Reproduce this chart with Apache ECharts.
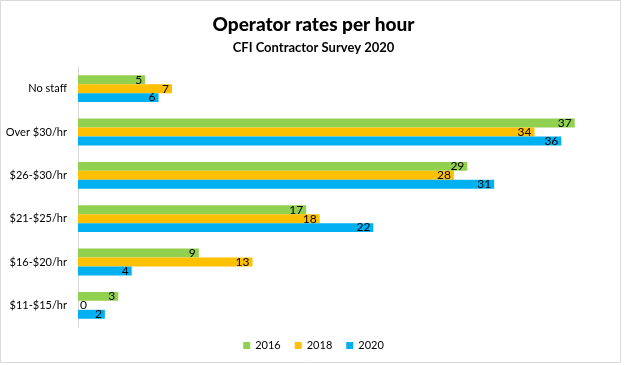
<!DOCTYPE html>
<html>
<head>
<meta charset="utf-8">
<script src="https://cdn.jsdelivr.net/npm/echarts@6/dist/echarts.min.js"></script>
<style>html,body{margin:0;padding:0;background:#fff}#c{width:627px;height:365px}</style>
</head>
<body>
<div id="c"></div>
<script>
const categories = ["No staff", "Over $30/hr", "$26-$30/hr", "$21-$25/hr", "$16-$20/hr", "$11-$15/hr"];
const seriesNames = ["2016", "2018", "2020"];
const values2016 = [5, 37, 29, 17, 9, 3];
const values2018 = [7, 34, 28, 18, 13, 0];
const values2020 = [6, 36, 31, 22, 4, 2];
const colors = ["#92D050", "#FFC000", "#00B0F0"];
const FONT = "Lato";

const allValues = [values2016, values2018, values2020];
const chart = echarts.init(document.getElementById('c'));
chart.setOption({
  animation: false,
  backgroundColor: '#fff',
  textStyle: { fontFamily: FONT },
  title: [
    { text: 'Operator rates per hour', left: 'center', top: 10,
      textStyle: { fontFamily: FONT, fontSize: 19, fontWeight: 900, color: '#000' } },
    { text: 'CFI Contractor Survey 2020', left: 'center', top: 36,
      textStyle: { fontFamily: FONT, fontSize: 13, fontWeight: 'bold', color: '#000' } }
  ],
  graphic: [{ type: 'rect', shape: { x: 0.5, y: 0.5, width: 620, height: 362 },
    style: { fill: 'none', stroke: '#d9d9d9', lineWidth: 1 }, silent: true }],
  legend: {
    data: seriesNames, bottom: 9, left: 'center', itemWidth: 7, itemHeight: 7, itemGap: 14,
    icon: 'rect', textStyle: { fontFamily: FONT, fontSize: 11, color: '#000' }
  },
  grid: { left: 78, right: 12, top: 67, bottom: 38, containLabel: false },
  xAxis: { type: 'value', min: 0, max: 40, show: false, splitLine: { show: false } },
  yAxis: {
    type: 'category', data: categories, inverse: true,
    axisLine: { show: true, lineStyle: { color: '#d9d9d9' } },
    axisTick: { show: false },
    axisLabel: { fontFamily: FONT, fontSize: 11, color: '#000', margin: 11 }
  },
  series: seriesNames.map((name, i) => ({
    name: name, type: 'bar', barGap: '0%', barCategoryGap: '38%',
    itemStyle: { color: colors[i] },
    label: { show: true, position: 'insideRight', distance: 3, fontFamily: FONT, fontSize: 12, color: '#000' },
    data: allValues[i].map(v => v === 0 ? { value: v, label: { position: 'right', distance: 2 } } : v)
  }))
});
</script>
</body>
</html>
